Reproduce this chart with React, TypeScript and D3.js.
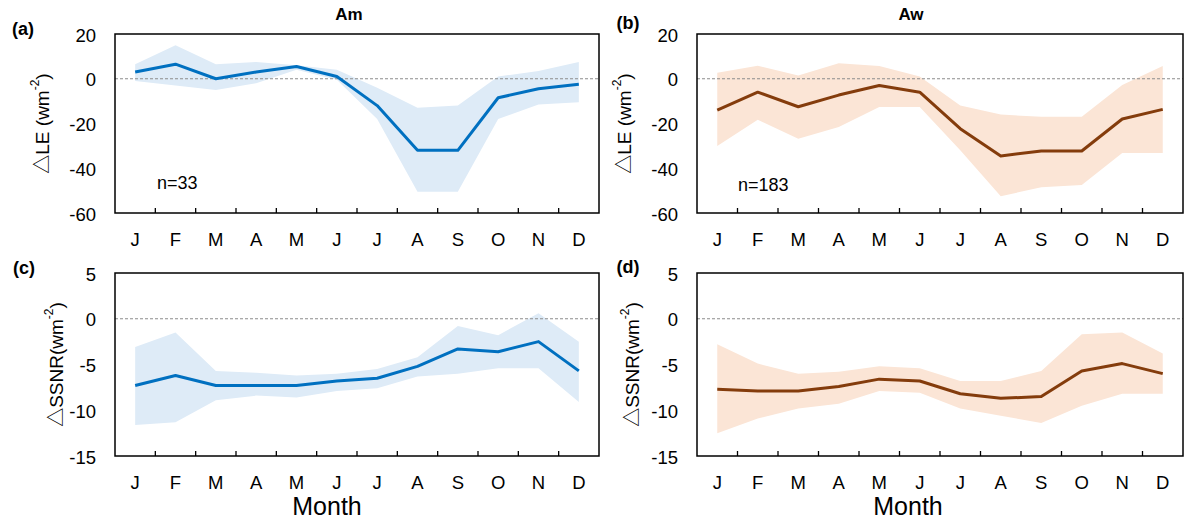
import * as d3 from "d3";

// month labels (repeat letters, so the scales use indices)
const months = ["J", "F", "M", "A", "M", "J", "J", "A", "S", "O", "N", "D"];

// (a) Am, latent heat change
const amLE = [3, 6.5, 0, 3, 5.5, 1, -12, -32, -32, -8.5, -4.5, -2.5];
const amLEUpper = [6.5, 15, 6.5, 7.5, 6, 4, -4, -13, -12, 1, 3.5, 7.5];
const amLELower = [-1, -3, -5, -2, 4, -0.5, -18, -50.5, -50.5, -18, -11.5, -10.5];

// (b) Aw, latent heat change
const awLE = [-14, -6, -12.5, -7.3, -3, -6, -22.3, -34.5, -32.3, -32.3, -18, -13.7];
const awLEUpper = [2.7, 5.8, 1.5, 6.9, 5.7, 1, -12, -16, -17, -17, -2.8, 5.7];
const awLELower = [-30, -18.3, -26.8, -21.6, -12.6, -12.6, -32, -52.5, -48.5, -47.5, -33.2, -33.2];

// (c) Am, SSNR change
const amSSNR = [-7.3, -6.2, -7.3, -7.3, -7.3, -6.8, -6.5, -5.2, -3.3, -3.6, -2.5, -5.7];
const amSSNRUpper = [-3.1, -1.5, -5.7, -5.9, -6.2, -6.0, -5.5, -4.2, -0.8, -1.8, 0.6, -2.5];
const amSSNRLower = [-11.6, -11.3, -8.9, -8.4, -8.6, -7.9, -7.6, -6.3, -6.0, -5.4, -5.4, -9.1];

// (d) Aw, SSNR change
const awSSNR = [-7.7, -7.9, -7.9, -7.4, -6.6, -6.8, -8.2, -8.7, -8.5, -5.7, -4.9, -6.0];
const awSSNRUpper = [-2.8, -4.9, -6.0, -5.8, -5.2, -5.4, -6.8, -6.8, -5.7, -1.7, -1.5, -3.8];
const awSSNRLower = [-12.5, -10.9, -9.8, -9.3, -7.9, -8.1, -9.8, -10.6, -11.4, -9.5, -8.2, -8.2];

const leTicks = [20, 0, -20, -40, -60];
const ssnrTicks = [5, 0, -5, -10, -15];

const FONT = "'Liberation Sans', Arial, 'Noto Sans CJK SC', sans-serif";
const blue = "#0070C0";
const blueBand = "#DEEBF7";
const brown = "#843C0C";
const brownBand = "#FBE5D6";

type PanelProps = {
  left: number; right: number; top: number; bottom: number;
  mean: number[]; upper: number[]; lower: number[];
  ticks: number[];
  color: string; fill: string;
  tag: string; tagX: number; tagY: number;
  yTitle: string; yTitleX: number;
  title?: string; titleX?: number;
  note?: string; noteX?: number; noteY?: number;
  xTitle?: boolean; xTitleX?: number;
};

const Panel = (p: PanelProps) => {
  const x = d3.scaleBand<number>().domain(d3.range(12)).range([p.left, p.right]);
  const cx = (i: number) => (x(i) as number) + x.bandwidth() / 2;
  const y = d3.scaleLinear()
    .domain([d3.min(p.ticks) as number, d3.max(p.ticks) as number])
    .range([p.bottom, p.top]);

  const area = d3.area<number>()
    .x((_, i) => cx(i))
    .y0((_, i) => y(p.lower[i]))
    .y1((_, i) => y(p.upper[i]));
  const line = d3.line<number>()
    .x((_, i) => cx(i))
    .y((d) => y(d));

  const midY = (p.top + p.bottom) / 2;

  return (
    <g fontFamily={FONT}>
      <path d={area(p.mean) ?? ""} fill={p.fill} />
      <line x1={p.left} x2={p.right} y1={y(0)} y2={y(0)}
        stroke="#8c8c8c" strokeWidth={1} strokeDasharray="3,2" />
      <path d={line(p.mean) ?? ""} fill="none" stroke={p.color} strokeWidth={3} strokeLinejoin="round" />
      <rect x={p.left} y={p.top} width={p.right - p.left} height={p.bottom - p.top}
        fill="none" stroke="#000" strokeWidth={1.5} />
      {d3.range(1, 12).map((i) => (
        <line key={i} x1={x(i)} x2={x(i)} y1={p.bottom} y2={p.bottom - 5} stroke="#000" strokeWidth={1.3} />
      ))}
      {p.ticks.map((t) => (
        <text key={t} x={p.left - 19} y={y(t) + 1} textAnchor="end" dominantBaseline="central" fontSize={18.5}>
          {t}
        </text>
      ))}
      {months.map((m, i) => (
        <text key={i} x={cx(i)} y={p.bottom + 26} textAnchor="middle" dominantBaseline="central" fontSize={18.5}>
          {m}
        </text>
      ))}
      <text x={p.tagX} y={p.tagY} textAnchor="middle" dominantBaseline="central" fontSize={18} fontWeight="bold">
        {p.tag}
      </text>
      <text transform={`translate(${p.yTitleX},${midY}) rotate(-90)`} textAnchor="middle"
        dominantBaseline="central" fontSize={19}>
        {p.yTitle}
        <tspan fontSize={12} dy={-7}>-2</tspan>
        <tspan dy={7}>)</tspan>
      </text>
      {p.title && (
        <text x={p.titleX} y={14} textAnchor="middle" dominantBaseline="central" fontSize={17} fontWeight="bold">
          {p.title}
        </text>
      )}
      {p.note && (
        <text x={p.noteX} y={p.noteY} dominantBaseline="central" fontSize={18}>
          {p.note}
        </text>
      )}
      {p.xTitle && (
        <text x={p.xTitleX} y={p.bottom + 50} textAnchor="middle" dominantBaseline="central" fontSize={25}>
          Month
        </text>
      )}
    </g>
  );
};

export default function App() {
  return (
    <svg width={1185} height={522} style={{ position: "absolute", left: 0, top: 0, background: "#fff" }}>
      <Panel left={115} right={599} top={34} bottom={213}
        mean={amLE} upper={amLEUpper} lower={amLELower} ticks={leTicks}
        color={blue} fill={blueBand}
        tag="(a)" tagX={23} tagY={29}
        yTitle="△LE (wm" yTitleX={42}
        title="Am" titleX={349}
        note="n=33" noteX={157} noteY={183} />
      <Panel left={697} right={1183} top={34} bottom={213}
        mean={awLE} upper={awLEUpper} lower={awLELower} ticks={leTicks}
        color={brown} fill={brownBand}
        tag="(b)" tagX={628} tagY={23}
        yTitle="△LE (wm" yTitleX={624}
        title="Aw" titleX={911}
        note="n=183" noteX={738} noteY={185} />
      <Panel left={115} right={599} top={273} bottom={456}
        mean={amSSNR} upper={amSSNRUpper} lower={amSSNRLower} ticks={ssnrTicks}
        color={blue} fill={blueBand}
        tag="(c)" tagX={24} tagY={268}
        yTitle="△SSNR(wm" yTitleX={56}
        xTitle xTitleX={327} />
      <Panel left={697} right={1183} top={273} bottom={456}
        mean={awSSNR} upper={awSSNRUpper} lower={awSSNRLower} ticks={ssnrTicks}
        color={brown} fill={brownBand}
        tag="(d)" tagX={628} tagY={267}
        yTitle="△SSNR(wm" yTitleX={632}
        xTitle xTitleX={908} />
    </svg>
  );
}
